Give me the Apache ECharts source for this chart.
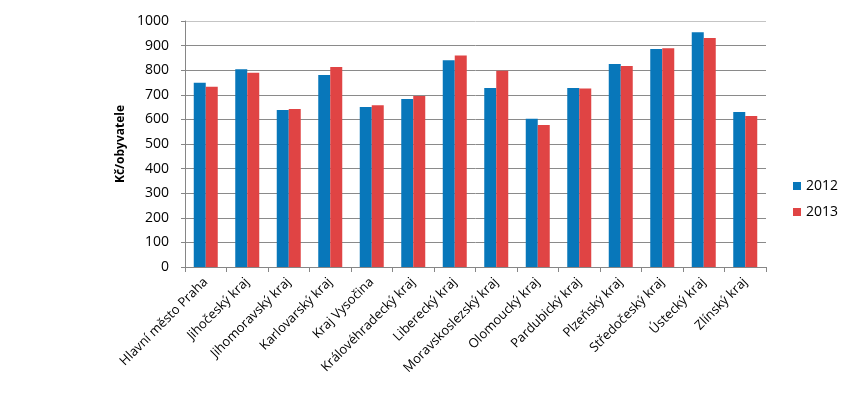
<!DOCTYPE html>
<html>
<head>
<meta charset="utf-8">
<script src="https://cdn.jsdelivr.net/npm/echarts@6/dist/echarts.min.js"></script>
<style>
  html, body { margin: 0; padding: 0; background: #fff; }
  #chart { width: 854px; height: 397px; }
</style>
</head>
<body>
<div id="chart"></div>
<script>
var kraje = ['Hlavní město Praha', 'Jihočeský kraj', 'Jihomoravský kraj', 'Karlovarský kraj',
  'Kraj Vysočina', 'Královéhradecký kraj', 'Liberecký kraj', 'Moravskoslezský kraj',
  'Olomoucký kraj', 'Pardubický kraj', 'Plzeňský kraj', 'Středočeský kraj',
  'Ústecký kraj', 'Zlínský kraj']
var hodnoty2012 = [749, 804, 638, 780, 650, 683, 840, 728, 603, 728, 825, 886, 954, 630]
var hodnoty2013 = [733, 790, 642, 813, 658, 695, 860, 798, 577, 726, 817, 889, 931, 614]

var font = '"Open Sans", "DejaVu Sans", sans-serif'
var myChart = echarts.init(document.getElementById('chart'))

// gridlines: top one (1000) is lighter in the original
var gridColors = ['#8a8a8a', '#8a8a8a', '#8a8a8a', '#8a8a8a', '#8a8a8a', '#8a8a8a',
  '#8a8a8a', '#8a8a8a', '#8a8a8a', '#8a8a8a', '#c4c4c4']

myChart.setOption({
  animation: false,
  textStyle: { fontFamily: font },
  color: ['#0877ba', '#e04444'],
  grid: { left: 185, right: 88, top: 21, bottom: 130 },
  legend: {
    orient: 'vertical',
    left: 788,
    top: 174,
    itemWidth: 8,
    itemHeight: 8,
    itemGap: 12,
    icon: 'rect',
    textStyle: { fontSize: 14, color: '#000', fontFamily: font },
    data: ['2012', '2013']
  },
  xAxis: {
    type: 'category',
    data: kraje,
    axisLine: { lineStyle: { color: '#868686' } },
    axisTick: { show: true, alignWithLabel: false, length: 5, lineStyle: { color: '#868686' } },
    axisLabel: { rotate: 45, fontSize: 13, color: '#000', margin: 13, interval: 0 }
  },
  yAxis: {
    type: 'value',
    min: 0,
    max: 1000,
    interval: 100,
    name: 'Kč/obyvatele',
    nameLocation: 'middle',
    nameGap: 58,
    nameTextStyle: { fontWeight: 'bold', fontSize: 12, color: '#000' },
    axisLine: { show: true, lineStyle: { color: '#868686' } },
    axisTick: { show: true, length: 4, lineStyle: { color: '#868686' } },
    axisLabel: {
      fontSize: 14,
      color: '#000',
      margin: 16,
      formatter: function (v) { return String(v) }
    },
    splitLine: { lineStyle: { color: gridColors } }
  },
  series: [
    { name: '2012', type: 'bar', data: hodnoty2012, barWidth: 12, barGap: '0%' },
    { name: '2013', type: 'bar', data: hodnoty2013, barWidth: 12, barGap: '0%' }
  ]
})
</script>
</body>
</html>
